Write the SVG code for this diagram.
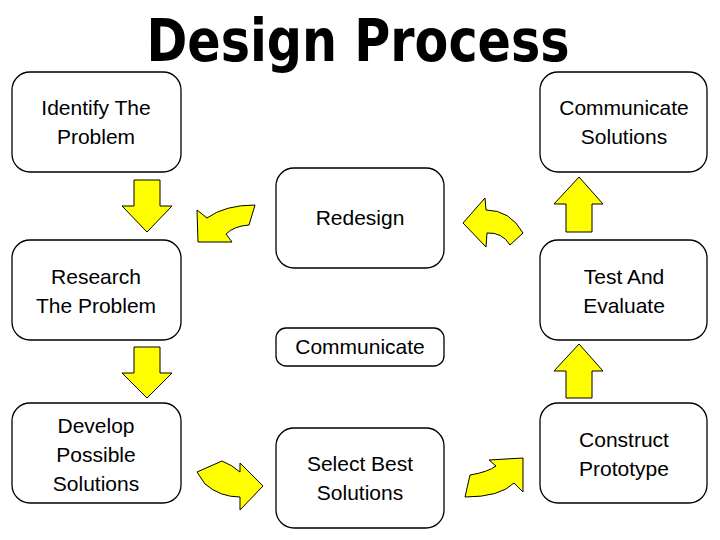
<svg xmlns="http://www.w3.org/2000/svg" width="720" height="540" viewBox="0 0 720 540">
<style>
.box{fill:#fff;stroke:#000;stroke-width:1.3}
.t{font-family:"Liberation Sans",Arial,sans-serif;font-size:21px;fill:#000;text-anchor:middle}
.arr{fill:#ffff00;stroke:#000;stroke-width:1}
</style>
<rect width="720" height="540" fill="#fff"/>
<text x="358" y="61" font-family="'Comic Sans MS','DejaVu Sans',sans-serif" font-weight="bold" font-size="58" text-anchor="middle" textLength="423" lengthAdjust="spacingAndGlyphs">Design Process</text>
<g id="identify"><rect class="box" x="12" y="72" width="169" height="100" rx="18"/><text class="t" x="96" y="115">Identify The</text><text class="t" x="96" y="144">Problem</text></g>
<g id="communicate-solutions"><rect class="box" x="540" y="72" width="167" height="100" rx="18"/><text class="t" x="624" y="115">Communicate</text><text class="t" x="624" y="144">Solutions</text></g>
<g id="redesign"><rect class="box" x="276" y="168" width="168" height="100" rx="18"/><text class="t" x="360" y="225">Redesign</text></g>
<g id="research"><rect class="box" x="12" y="240" width="169" height="100" rx="18"/><text class="t" x="96" y="284">Research</text><text class="t" x="96" y="313">The Problem</text></g>
<g id="test"><rect class="box" x="540" y="240" width="167" height="100" rx="18"/><text class="t" x="624" y="284">Test And</text><text class="t" x="624" y="313">Evaluate</text></g>
<g id="communicate"><rect class="box" x="276" y="328" width="168" height="38" rx="10"/><text class="t" x="360" y="354">Communicate</text></g>
<g id="develop"><rect class="box" x="12" y="403" width="169" height="100" rx="18"/><text class="t" x="96" y="433">Develop</text><text class="t" x="96" y="462">Possible</text><text class="t" x="96" y="491">Solutions</text></g>
<g id="select"><rect class="box" x="276" y="428" width="168" height="100" rx="18"/><text class="t" x="360" y="471">Select Best</text><text class="t" x="360" y="500">Solutions</text></g>
<g id="construct"><rect class="box" x="540" y="403" width="167" height="100" rx="18"/><text class="t" x="624" y="447">Construct</text><text class="t" x="624" y="476">Prototype</text></g>
<g id="connectors">
<path class="arr" d="M134,180 H160 V206 H172 L147,232 L122,206 H134 Z"/>
<path class="arr" d="M134,347 H160 V373 H172 L147,398 L122,373 H134 Z"/>
<path class="arr" d="M566,232 H592 V204 H603 L579,177 L554,204 H566 Z"/>
<path class="arr" d="M566,398 H592 V371 H603 L579,344 L554,371 H566 Z"/>
<path class="arr" d="M198,242 L197,210 L207,218 Q225,205 255,205 L249,225 Q234,226 226,234 L232,242 Z"/>
<path class="arr" d="M463,223 L485,198 L486,210 Q510,210 523,233 L510,245 Q502,232 487,233 L486,247 Z"/>
<path class="arr" d="M197,472 L222,461 Q232,465 240,472 L240,463 L263,486 L240,510 L240,497 Q220,497 205,484 Z"/>
<path class="arr" d="M465,497 L470,475 Q488,472 496,466 L489,460 L523,458 L523,492 L514,483 Q500,497 465,497 Z"/>
</g>
</svg>
